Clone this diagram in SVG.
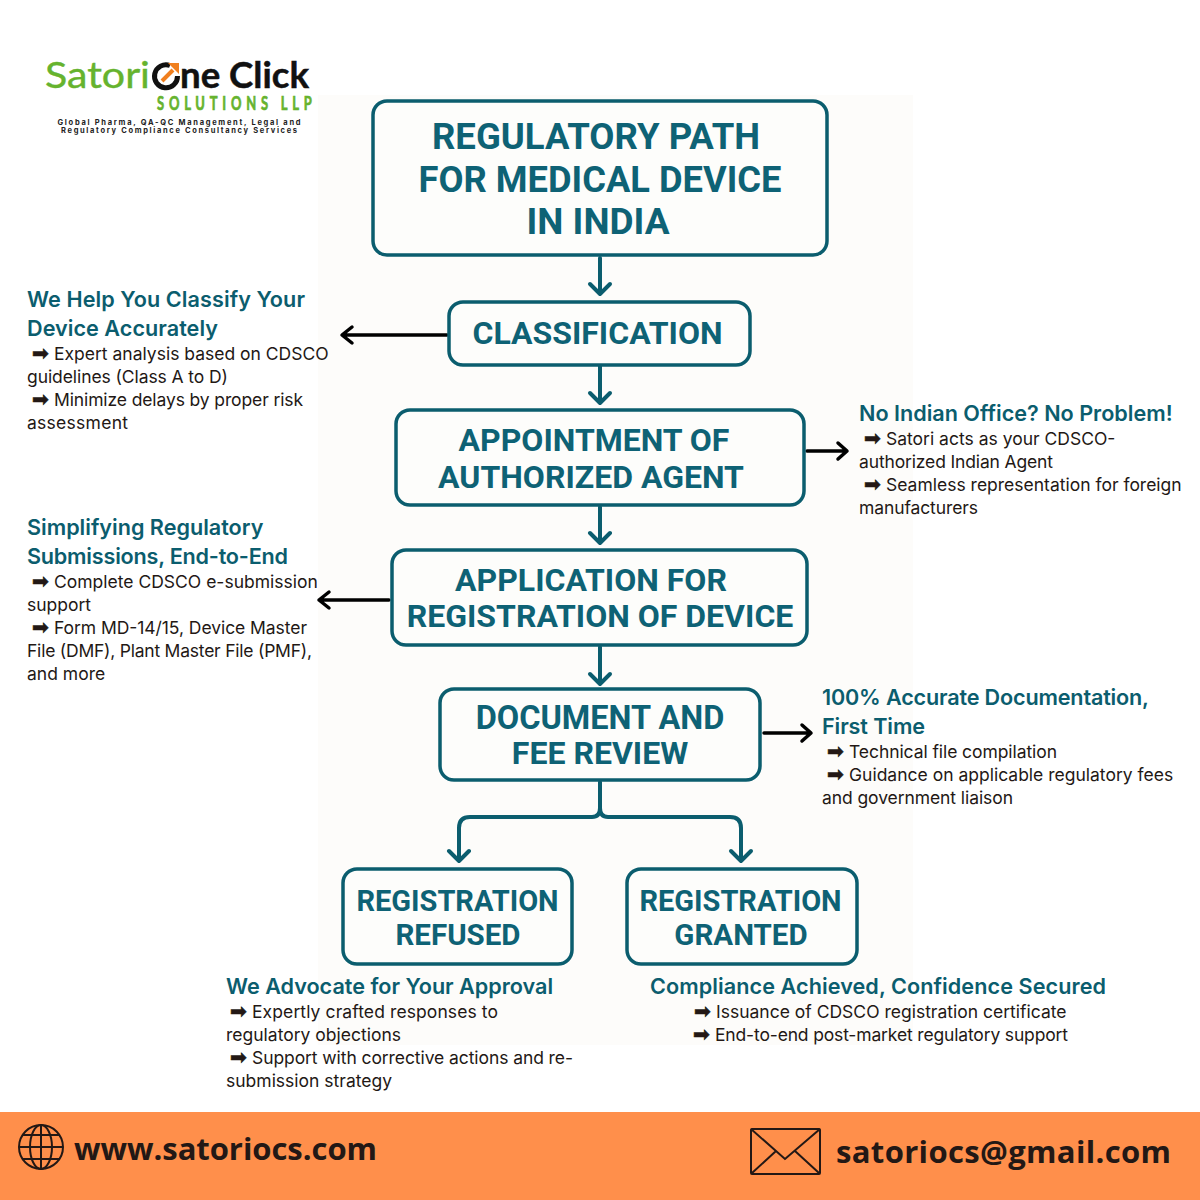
<svg xmlns="http://www.w3.org/2000/svg" width="1200" height="1200" viewBox="0 0 1200 1200">
<style>
.box{fill:#fdfdfb;stroke:#0b5d6e;stroke-width:3.500}
.t{font-family:Roboto,sans-serif;font-weight:700;fill:#0e6275;text-anchor:middle}
.h{font-family:Inter,"Liberation Sans",sans-serif;font-weight:600;font-size:21.600px;fill:#0b5d6e}
.b{font-family:Inter,"Liberation Sans",sans-serif;font-size:17.500px;fill:#231815}
.a{font-family:"DejaVu Sans",sans-serif;font-size:20px;stroke:#231815;stroke-width:.6}
.c{fill:none;stroke:#0b5d6e;stroke-width:4;stroke-linecap:round;stroke-linejoin:round}
.k{fill:none;stroke:#000;stroke-width:3.500;stroke-linecap:round;stroke-linejoin:round}
.f{font-family:"Open Sans",sans-serif;font-weight:700;font-size:31px;fill:#231815}
.i{fill:none;stroke:#231815;stroke-width:2}
</style>
<rect width="1200" height="1200" fill="#fff"/>
<rect x="318" y="95" width="595" height="950" fill="#fdfcfa"/>
<g id="logo">
<text x="45" y="88" font-family="Lato,sans-serif" font-size="37" fill="#66b32e" stroke="#66b32e" stroke-width=".4" textLength="105" lengthAdjust="spacingAndGlyphs">Satori</text>
<path d="M170 65.500A11.500 11.500 0 1 0 177.500 76" fill="none" stroke="#111" stroke-width="5"/>
<path d="M162 81L173 70" stroke="#f07f1e" stroke-width="4" fill="none"/>
<path d="M168 63H179V74z" fill="#f07f1e"/>
<text x="180" y="88" font-family="Lato,sans-serif" font-weight="700" font-size="36" fill="#111" stroke="#111" stroke-width=".5" textLength="129" lengthAdjust="spacingAndGlyphs">ne Click</text>
<text transform="translate(157 110) scale(.72 1)" font-family="Lato,sans-serif" font-weight="700" font-size="18" fill="#66b32e" stroke="#66b32e" stroke-width=".7" textLength="215">SOLUTIONS LLP</text>
<text x="179" y="125" font-family="Inter,sans-serif" font-weight="700" font-size="7.500" fill="#222" text-anchor="middle" textLength="243">Global Pharma, QA-QC Management, Legal and</text>
<text x="179" y="133" font-family="Inter,sans-serif" font-weight="700" font-size="7.500" fill="#222" text-anchor="middle" textLength="236">Regulatory Compliance Consultancy Services</text>
</g>
<g id="connectors">
<path class="c" d="M600 258V293M590 284L600 294L610 284"/>
<path class="c" d="M600 366V402M590 393L600 403L610 393"/>
<path class="c" d="M600 507V542M590 533L600 543L610 533"/>
<path class="c" d="M600 647V682M590 674L600 684L610 674"/>
<path class="c" d="M600 782V808Q600 817 592 817H470Q459 817 459 828V861M449 851L459 861L469 851"/>
<path class="c" d="M600 808Q600 817 608 817H730Q741 817 741 828V861M731 851L741 861L751 851"/>
<path class="k" d="M447 335H343M352 327L342 335L352 343"/>
<path class="k" d="M807 451H846M838 443L847 451L838 459"/>
<path class="k" d="M389 600H319M329 592L319 600L329 608"/>
<path class="k" d="M764 733H810M802 725L811 733L802 741"/>
</g>
<g id="title"><rect class="box" x="373" y="101" width="454" height="154" rx="14"/>
<text class="t" font-size="36.500" x="596" y="149">REGULATORY PATH</text><text class="t" font-size="36.300" x="600" y="192">FOR MEDICAL DEVICE</text><text class="t" font-size="37" x="598" y="234">IN INDIA</text></g>
<g id="classification"><rect class="box" x="449" y="302" width="301" height="63" rx="14"/>
<text class="t" font-size="32" x="597.500" y="344">CLASSIFICATION</text></g>
<g id="agent"><rect class="box" x="396" y="410" width="408" height="95" rx="14"/>
<text class="t" font-size="32" x="594" y="451">APPOINTMENT OF</text><text class="t" font-size="32" x="591" y="488">AUTHORIZED AGENT</text></g>
<g id="application"><rect class="box" x="392" y="550" width="415" height="95" rx="14"/>
<text class="t" font-size="32" x="591" y="591">APPLICATION FOR</text><text class="t" font-size="32" x="600" y="627">REGISTRATION OF DEVICE</text></g>
<g id="review"><rect class="box" x="440" y="689" width="320" height="91" rx="14"/>
<text class="t" font-size="32.500" x="600" y="729">DOCUMENT AND</text><text class="t" font-size="32" x="600" y="763.500">FEE REVIEW</text></g>
<g id="refused"><rect class="box" x="343" y="869" width="229" height="95" rx="14"/>
<text class="t" font-size="29" x="457.500" y="911">REGISTRATION</text><text class="t" font-size="29.500" x="458" y="945">REFUSED</text></g>
<g id="granted"><rect class="box" x="627" y="869" width="230" height="95" rx="14"/>
<text class="t" font-size="29" x="740.500" y="911">REGISTRATION</text><text class="t" font-size="29.500" x="741" y="945">GRANTED</text></g>
<g id="note-classify">
<text class="h" x="27" y="307" textLength="278">We Help You Classify Your</text><text class="h" x="27" y="336" textLength="191">Device Accurately</text>
<text class="b" x="32" y="360"><tspan class="a">➡</tspan><tspan x="54">Expert analysis based on CDSCO</tspan></text><text class="b" x="27" y="383" textLength="201">guidelines (Class A to D)</text>
<text class="b" x="32" y="406"><tspan class="a">➡</tspan><tspan x="54" textLength="249">Minimize delays by proper risk</tspan></text><text class="b" x="27" y="429" textLength="101">assessment</text></g>
<g id="note-agent">
<text class="h" x="859" y="421">No Indian Office? No Problem!</text>
<text class="b" x="864" y="445"><tspan class="a">➡</tspan><tspan x="886">Satori acts as your CDSCO-</tspan></text><text class="b" x="859" y="468" textLength="194">authorized Indian Agent</text>
<text class="b" x="864" y="491"><tspan class="a">➡</tspan><tspan x="886">Seamless representation for foreign</tspan></text><text class="b" x="859" y="514" textLength="119">manufacturers</text></g>
<g id="note-application">
<text class="h" x="27" y="535">Simplifying Regulatory</text><text class="h" x="27" y="564" textLength="261">Submissions, End-to-End</text>
<text class="b" x="32" y="588"><tspan class="a">➡</tspan><tspan x="54">Complete CDSCO e-submission</tspan></text><text class="b" x="27" y="611">support</text>
<text class="b" x="32" y="634"><tspan class="a">➡</tspan><tspan x="54" textLength="253">Form MD-14/15, Device Master</tspan></text><text class="b" x="27" y="657" textLength="285">File (DMF), Plant Master File (PMF),</text><text class="b" x="27" y="680">and more</text></g>
<g id="note-review">
<text class="h" x="822" y="705" textLength="327">100% Accurate Documentation,</text><text class="h" x="822" y="734" textLength="103">First Time</text>
<text class="b" x="827" y="758"><tspan class="a">➡</tspan><tspan x="849" textLength="208">Technical file compilation</tspan></text>
<text class="b" x="827" y="781"><tspan class="a">➡</tspan><tspan x="849">Guidance on applicable regulatory fees</tspan></text><text class="b" x="822" y="804" textLength="191">and government liaison</text></g>
<g id="note-refused">
<text class="h" x="226" y="994">We Advocate for Your Approval</text>
<text class="b" x="230" y="1018"><tspan class="a">➡</tspan><tspan x="252" textLength="246">Expertly crafted responses to</tspan></text><text class="b" x="226" y="1041" textLength="175">regulatory objections</text>
<text class="b" x="230" y="1064"><tspan class="a">➡</tspan><tspan x="252" textLength="321">Support with corrective actions and re-</tspan></text><text class="b" x="226" y="1087">submission strategy</text></g>
<g id="note-granted">
<text class="h" x="650" y="994" textLength="456">Compliance Achieved, Confidence Secured</text>
<text class="b" x="694" y="1018"><tspan class="a">➡</tspan><tspan x="716">Issuance of CDSCO registration certificate</tspan></text>
<text class="b" x="693" y="1041"><tspan class="a">➡</tspan><tspan x="715" textLength="353">End-to-end post-market regulatory support</tspan></text></g>
<g id="footer">
<rect x="0" y="1112" width="1200" height="88" fill="#ff8f4b"/>
<g class="i"><circle cx="41" cy="1147" r="22"/><ellipse cx="41" cy="1147" rx="11" ry="22"/><path d="M41 1125V1169M19 1147H63M23 1135H59M23 1159H59"/></g>
<text class="f" x="74" y="1160" textLength="303">www.satoriocs.com</text>
<g class="i"><rect x="751" y="1129" width="69" height="45" rx="1"/><path d="M751 1129L785 1159L820 1129M752 1173L776 1151M819 1173L795 1151"/></g>
<text class="f" x="836" y="1163" textLength="335">satoriocs@gmail.com</text>
</g>
</svg>
